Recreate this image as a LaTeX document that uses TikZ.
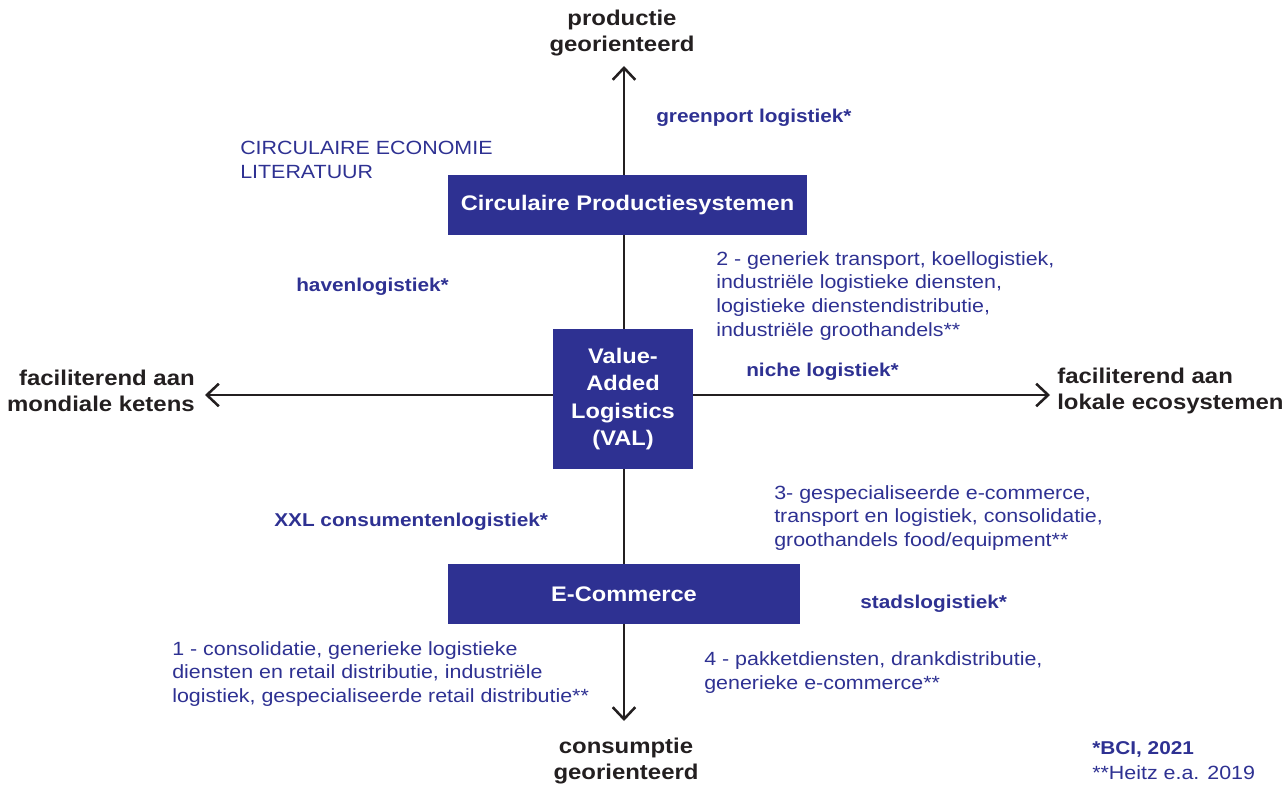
\documentclass[tikz,border=0pt]{standalone}
\usepackage{fontspec}
\setmainfont{Liberation Sans}[FakeStretch=1.12]
\usetikzlibrary{arrows.meta}
\definecolor{navy}{HTML}{2E3192}
\definecolor{ink}{HTML}{231F20}
\begin{document}
\begin{tikzpicture}[x=0.025cm,y=-0.025cm,
  bx/.style={fill=navy,text=white,font=\bfseries\fontsize{15}{19.5}\selectfont,inner sep=0pt,align=center},
  axislbl/.style={text=ink,font=\bfseries\fontsize{15.2}{19}\selectfont,inner sep=0pt},
  bluebold/.style={text=navy,font=\bfseries\fontsize{13.2}{17}\selectfont,inner sep=0pt},
  bluereg/.style={text=navy,font=\fontsize{13.6}{17}\selectfont,inner sep=0pt,align=left},
  ax/.style={draw=ink,line width=1.8pt},
  arr/.style={ax,-{Straight Barb[length=8.5pt,width=16pt,line width=1.8pt]}}]
\useasboundingbox (0,0) rectangle (1288,787);
% boxes
\node[bx,minimum width=359*0.025cm,minimum height=60*0.025cm] (cps) at (627.5,205) {Circulaire Productiesystemen};
\node[bx,minimum width=140*0.025cm,minimum height=140*0.025cm] (val) at (623,399) {Value-\\Added\\Logistics\\(VAL)};
\node[bx,minimum width=352*0.025cm,minimum height=60*0.025cm] (ec) at (624,594) {E-Commerce};
% axis end points
\coordinate (T) at (624,66);
\coordinate (B) at (624,721);
\coordinate (L) at (205,395);
\coordinate (R) at (1050,395);
% axes
\draw[arr] (T |- cps.north) -- (T);
\draw[ax] (T |- cps.south) -- (T |- val.north);
\draw[ax] (T |- val.south) -- (T |- ec.north);
\draw[arr] (B |- ec.south) -- (B);
\draw[arr] (val.west |- L) -- (L);
\draw[arr] (val.east |- R) -- (R);
% axis labels
\node[axislbl,align=center] (top) at (622,33) {productie\\georienteerd};
\node[axislbl,align=center] (bot) at (626,761) {consumptie\\georienteerd};
\node[axislbl,align=right,anchor=east] (lft) at (195,391) {faciliterend aan\\mondiale ketens};
\node[axislbl,align=left,anchor=west] (rgt) at (1057,391) {faciliterend aan\\lokale ecosystemen};
% blue labels
\node[bluebold,anchor=west] (gp) at (656,118) {greenport logistiek*};
\node[bluereg,anchor=west] (ce) at (240,160) {CIRCULAIRE ECONOMIE\\LITERATUUR};
\node[bluebold,anchor=west] (hv) at (296,287) {havenlogistiek*};
\node[bluereg,anchor=west] (t2) at (716,296) {2 - generiek transport, koellogistiek,\\industriële logistieke diensten,\\logistieke dienstendistributie,\\industriële groothandels**};
\node[bluebold,anchor=west] (ni) at (746,372) {niche logistiek*};
\node[bluebold,anchor=west] (xxl) at (274,522) {XXL consumentenlogistiek*};
\node[bluereg,anchor=west] (t3) at (774,518) {3- gespecialiseerde e-commerce,\\transport en logistiek, consolidatie,\\groothandels food/equipment**};
\node[bluebold,anchor=west] (st) at (860,604) {stadslogistiek*};
\node[bluereg,anchor=west] (t1) at (172,674) {1 - consolidatie, generieke logistieke\\diensten en retail distributie, industriële\\logistiek, gespecialiseerde retail distributie**};
\node[bluereg,anchor=west] (t4) at (704,673) {4 - pakketdiensten, drankdistributie,\\generieke e-commerce**};
\node[bluebold,anchor=west] (bci) at (1092,749) {*BCI, 2021};
\node[bluereg,anchor=west] (hz) at (1092,773) {**Heitz e.a. 2019};
\end{tikzpicture}
\end{document}
